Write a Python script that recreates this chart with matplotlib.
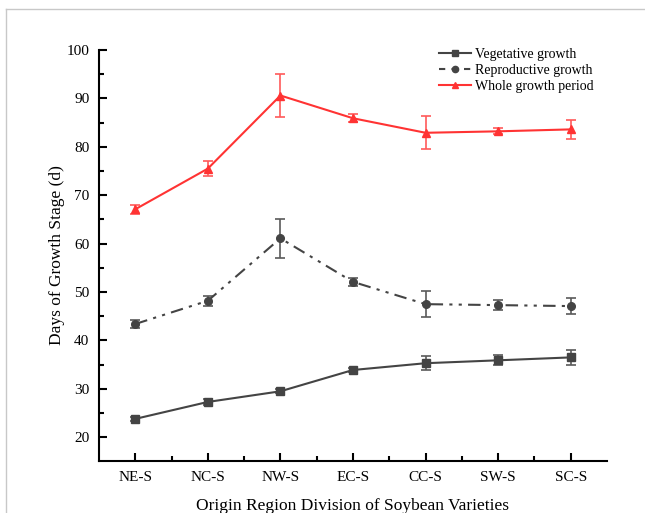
import matplotlib
matplotlib.use("Agg")
import matplotlib.pyplot as plt
from matplotlib.lines import Line2D
from matplotlib.ticker import FixedLocator
import numpy as np

plt.rcParams['font.family'] = ['Liberation Serif', 'DejaVu Serif']

regions = ["NE-S", "NC-S", "NW-S", "EC-S", "CC-S", "SW-S", "SC-S"]

veg_mean = [23.8, 27.3, 29.5, 33.9, 35.3, 35.9, 36.5]
veg_err = [0.4, 0.6, 0.4, 0.5, 1.5, 1.0, 1.6]

rep_mean = [43.4, 48.2, 61.1, 52.1, 47.5, 47.3, 47.1]
rep_err = [0.9, 1.0, 4.0, 0.8, 2.7, 1.0, 1.65]

whole_mean = [67.1, 75.5, 90.6, 85.9, 82.9, 83.2, 83.6]
whole_err = [0.9, 1.5, 4.5, 0.8, 3.4, 0.6, 2.0]

fig = plt.figure(figsize=(6.45, 5.13), dpi=100)
ax = fig.add_axes([99/645, 1-461/513, (607-99)/645, (461-50)/513])

x = np.arange(len(regions))
dark = "#444444"
dark_err = "#5a5a5a"
red = "#ff3333"
red_err = "#ff5a5a"

ax.errorbar(x, veg_mean, yerr=veg_err, color=dark, ecolor=dark_err, lw=1.5,
            marker="s", ms=5.2, capsize=3.5, elinewidth=1.2, capthick=1.2,
            label="Vegetative growth", zorder=3)
ax.errorbar(x, rep_mean, yerr=rep_err, color=dark, ecolor=dark_err, lw=1.5,
            marker="o", ms=5.5, capsize=3.5, elinewidth=1.2, capthick=1.2,
            linestyle=(0, (6, 3, 1.5, 3, 1.5, 3)),
            label="Reproductive growth", zorder=3)
ax.errorbar(x, whole_mean, yerr=whole_err, color=red, ecolor=red_err, lw=1.5,
            marker="^", ms=6, capsize=3.5, elinewidth=1.2, capthick=1.2,
            label="Whole growth period", zorder=3)

ax.set_xlim(-0.5, 6.5)
ax.set_ylim(15.1, 100)
ax.set_xticks(x)
ax.set_xticklabels(regions)
ax.xaxis.set_minor_locator(FixedLocator(x[:-1] + 0.5))
ax.yaxis.set_major_locator(FixedLocator([20, 30, 40, 50, 60, 70, 80, 90, 100]))
ax.yaxis.set_minor_locator(FixedLocator([25, 35, 45, 55, 65, 75, 85, 95]))

for s in ["top", "right"]:
    ax.spines[s].set_visible(False)
for s in ["left", "bottom"]:
    ax.spines[s].set_linewidth(1.5)
    ax.spines[s].set_color("black")

ax.tick_params(axis="both", which="major", direction="in", length=6, width=1.5,
               labelsize=11, pad=7)
ax.tick_params(axis="both", which="minor", direction="in", length=3.5, width=1.5)

ax.set_xlabel("Origin Region Division of Soybean Varieties", fontsize=12.5, labelpad=10)
ax.set_ylabel("Days of Growth Stage (d)", fontsize=12.5, labelpad=1)

handles = [
    Line2D([], [], color=dark, lw=1.5, marker="s", ms=4.5),
    Line2D([], [], color=dark, lw=1.5, marker="o", ms=4.5, linestyle=(0, (3, 3))),
    Line2D([], [], color=red, lw=1.5, marker="^", ms=4.5),
]
labels = ["Vegetative growth", "Reproductive growth", "Whole growth period"]
ax.legend(handles, labels, loc="upper left", bbox_to_anchor=(0.645, 1.035),
          frameon=False, fontsize=10, handlelength=2.3, handletextpad=0.3,
          labelspacing=0.2)

# thin frame along the top and left edges of the canvas
fig.add_artist(Line2D([6/645, 1], [1-9/513, 1-9/513], transform=fig.transFigure,
                      color="#c8c8c8", lw=1))
fig.add_artist(Line2D([6/645, 6/645], [0, 1-9/513], transform=fig.transFigure,
                      color="#c8c8c8", lw=1))

fig.savefig("out.png", dpi=100)
